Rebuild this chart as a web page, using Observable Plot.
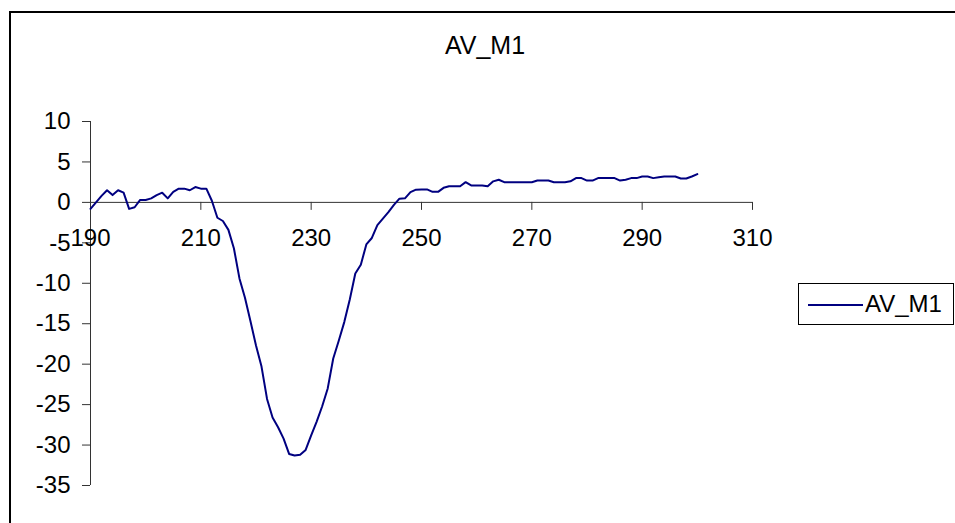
<!DOCTYPE html>
<html>
<head>
<meta charset="utf-8">
<script src="https://cdn.jsdelivr.net/npm/d3@7"></script>
<script src="https://cdn.jsdelivr.net/npm/@observablehq/plot@0.6"></script>
<style>
  html, body { margin: 0; padding: 0; background: #fff; overflow: hidden; }
  #wrap { position: relative; width: 955px; height: 523px; overflow: hidden; font-family: "Liberation Sans", Arial, sans-serif; }
  #frame { position: absolute; left: 9px; top: 11px; width: 960px; height: 530px; border: 2px solid #000; box-sizing: border-box; }
  #title { position: absolute; left: 0; width: 970px; top: 31px; text-align: center; font-size: 25px; line-height: 28px; color: #000; }
  #chart { position: absolute; left: 0; top: 0; }
  #legend { position: absolute; left: 798px; top: 283px; width: 156px; height: 42px; border: 1px solid #000; box-sizing: border-box; background: #fff; }
  #legend .sw { position: absolute; left: 9px; top: 20px; width: 55px; border-top: 2px solid #000080; }
  #legend .lab { position: absolute; left: 66px; top: 6px; font-size: 24px; line-height: 28px; color: #000; }
</style>
</head>
<body>
<div id="wrap">
  <div id="frame"></div>
  <div id="chart"></div>
  <div id="title">AV_M1</div>
  <div id="legend"><div class="sw"></div><div class="lab">AV_M1</div></div>
</div>
<script>
// Wavelength (x) values
const wavelength = [190,191,192,193,194,195,196,197,198,199,200,201,202,203,204,205,206,207,208,209,
  210,211,212,213,214,215,216,217,218,219,220,221,222,223,224,225,226,227,228,229,
  230,231,232,233,234,235,236,237,238,239,240,241,242,243,244,245,246,247,248,249,
  250,251,252,253,254,255,256,257,258,259,260,261,262,263,264,265,266,267,268,269,
  270,271,272,273,274,275,276,277,278,279,280,281,282,283,284,285,286,287,288,289,
  290,291,292,293,294,295,296,297,298,299,300];
// AV_M1 series values
const avM1 = [-0.8,0.0,0.8,1.5,0.9,1.5,1.2,-0.8,-0.6,0.3,0.3,0.5,0.9,1.2,0.5,1.3,1.7,1.7,1.5,1.9,
  1.7,1.7,0.2,-1.9,-2.3,-3.4,-5.7,-9.4,-11.8,-14.7,-17.7,-20.3,-24.3,-26.6,-27.8,-29.2,-31.1,-31.3,-31.2,-30.6,
  -28.8,-27.1,-25.2,-23.0,-19.3,-17.1,-14.8,-12.0,-8.8,-7.7,-5.2,-4.4,-2.8,-2.0,-1.2,-0.3,0.46,0.5,1.27,1.57,
  1.6,1.6,1.3,1.3,1.8,2.0,2.0,2.0,2.5,2.1,2.1,2.1,2.0,2.6,2.8,2.5,2.5,2.5,2.5,2.5,
  2.5,2.7,2.7,2.7,2.5,2.5,2.5,2.6,3.0,3.0,2.7,2.7,3.0,3.0,3.0,3.0,2.7,2.8,3.0,3.0,
  3.2,3.2,3.0,3.1,3.2,3.2,3.2,2.95,2.95,3.2,3.5];
const seriesName = "AV_M1";
const xTicks = [190,210,230,250,270,290,310];
const yTicks = [10,5,0,-5,-10,-15,-20,-25,-30,-35];

const data = wavelength.map((x, i) => ({x, y: avM1[i]}));
const FONT = "Liberation Sans, Arial, sans-serif";

const chart = Plot.plot({
  width: 955,
  height: 523,
  marginLeft: 90,
  marginRight: 203,
  marginTop: 121,
  marginBottom: 38,
  style: {fontFamily: FONT, fontSize: "24px", color: "#000", background: "transparent", overflow: "visible"},
  x: {domain: [190, 310]},
  y: {domain: [-35, 10]},
  marks: [
    Plot.ruleX([190], {stroke: "#333", strokeWidth: 1}),
    Plot.ruleY([0], {stroke: "#333", strokeWidth: 1}),
    Plot.axisY({anchor: "left", ticks: yTicks, tickSize: 8, tickPadding: 12, tickFormat: d => `${d}`, stroke: "#333", fill: "#000", fontSize: 24, label: null}),
    Plot.axisX({anchor: "bottom", y: () => 0, ticks: xTicks, tickSize: 8, tickPadding: 19, tickFormat: d => `${d}`, stroke: "#333", fill: "#000", fontSize: 24, label: null}),
    Plot.line(data, {x: "x", y: "y", stroke: "#000080", strokeWidth: 2})
  ]
});
document.getElementById("chart").appendChild(chart);
</script>
</body>
</html>
